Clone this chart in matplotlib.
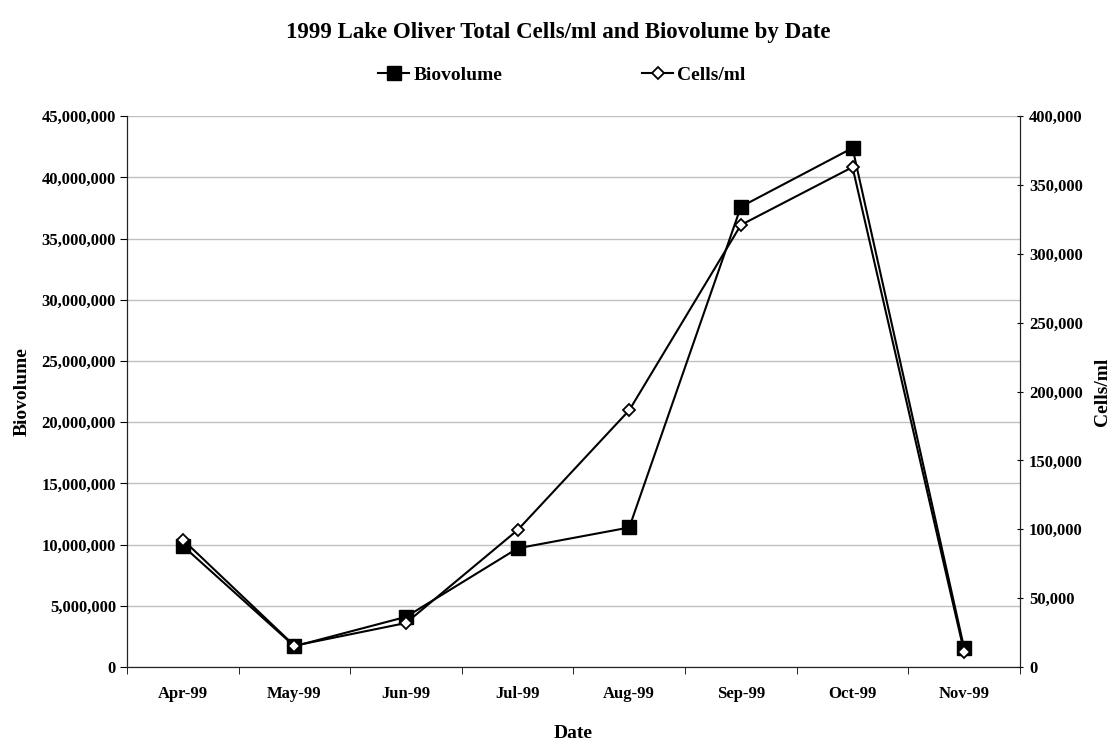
import numpy as np
import matplotlib.pyplot as plt
from matplotlib.ticker import FuncFormatter, MultipleLocator

plt.rcParams['font.family'] = ['Liberation Serif', 'DejaVu Serif']
plt.rcParams['font.weight'] = 'bold'

dates = ["Apr-99", "May-99", "Jun-99", "Jul-99", "Aug-99", "Sep-99", "Oct-99", "Nov-99"]
biovolume = [9900000, 1700000, 4100000, 9700000, 11400000, 37600000, 42400000, 1550000]
cells_ml = [92500, 15500, 32000, 99500, 186500, 321000, 363000, 11000]

fig = plt.figure(figsize=(11.17, 7.4), dpi=100)
ax = fig.add_axes([0.1137, 0.0986, 0.7994, 0.7444])
ax2 = ax.twinx()

x = np.arange(len(dates))
l1, = ax.plot(x, biovolume, color="black", lw=1.5, marker="s", markersize=10.5,
              markerfacecolor="black", label="Biovolume", zorder=3)
l2, = ax2.plot(x, cells_ml, color="black", lw=1.5, marker="D", markersize=6.5,
               markerfacecolor="white", markeredgewidth=1.3, label="Cells/ml", zorder=3)

ax.set_xlim(-0.5, len(dates) - 0.5)
ax.set_ylim(0, 45000000)
ax2.set_ylim(0, 400000)
ax.yaxis.set_major_locator(MultipleLocator(5000000))
ax2.yaxis.set_major_locator(MultipleLocator(50000))
fmt = FuncFormatter(lambda v, p: f"{int(v):,}")
ax.yaxis.set_major_formatter(fmt)
ax2.yaxis.set_major_formatter(fmt)

ax.set_xticks(x)
ax.set_xticklabels(dates)
ax.set_xticks(np.arange(-0.5, len(dates), 1.0), minor=True)
ax.tick_params(axis="x", which="major", length=0, pad=14, labelsize=12)
ax.tick_params(axis="x", which="minor", length=5, direction="out")
ax.tick_params(axis="y", length=5, direction="out", labelsize=12, pad=3)
ax2.tick_params(axis="y", length=5, direction="inout", labelsize=12, pad=4)

ax.grid(axis="y", color="#c0c0c0", lw=1)
ax.set_axisbelow(True)
for a in (ax, ax2):
    a.spines["top"].set_visible(False)
    for sp in ["left", "right", "bottom"]:
        a.spines[sp].set_color("#222222")

ax.set_xlabel("Date", fontsize=14, fontweight="bold", labelpad=16)
ax.set_ylabel("Biovolume", fontsize=14, fontweight="bold", labelpad=8)
ax2.set_ylabel("Cells/ml", fontsize=14, fontweight="bold", labelpad=8)

fig.suptitle("1999 Lake Oliver Total Cells/ml and Biovolume by Date",
             fontsize=16.5, fontweight="bold", y=0.97)
fig.legend(handles=[l1, l2], loc="center", bbox_to_anchor=(0.503, 0.899), ncol=2,
           frameon=False, fontsize=14, columnspacing=7.2, handlelength=1.6,
           handletextpad=0.2)

fig.savefig("out.png", dpi=100)
